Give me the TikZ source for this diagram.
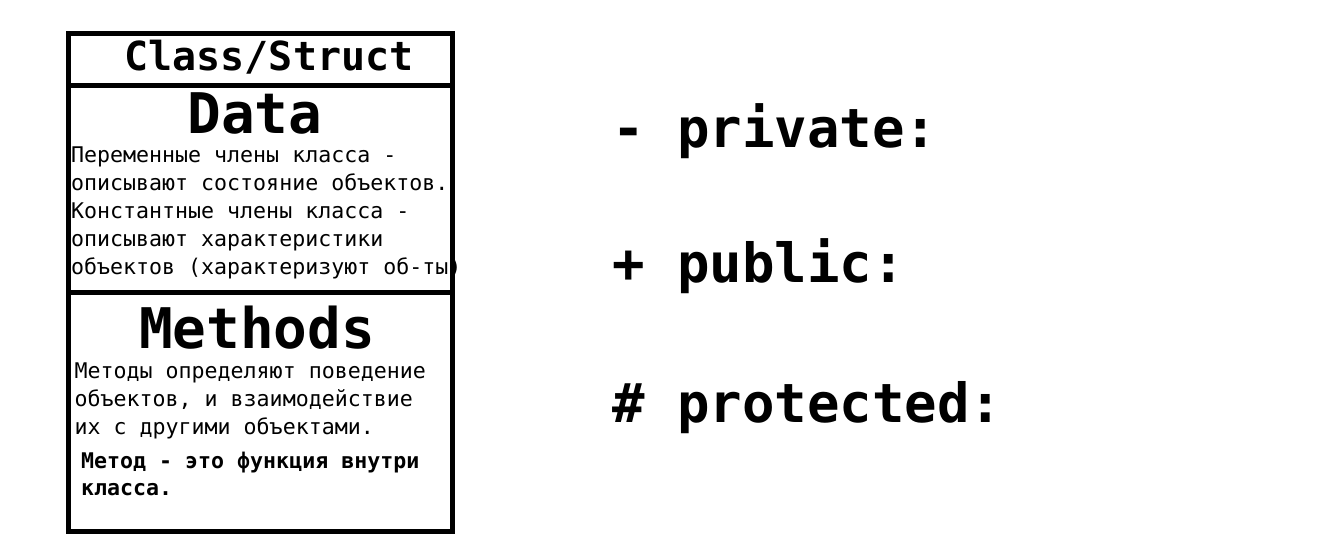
\documentclass[tikz,border=0pt]{standalone}
\usepackage{fontspec}
\setmonofont{DejaVu Sans Mono}
\usetikzlibrary{positioning}
\tikzset{
  compartment/.style={draw, line width=5pt, minimum width=384pt, inner sep=0pt, anchor=north west},
  heading/.style={font=\ttfamily\bfseries\fontsize{56}{56}\selectfont, inner sep=0pt, anchor=base},
  memo/.style={font=\ttfamily\fontsize{21.6}{28}\selectfont, align=left, inner sep=0pt, anchor=base west},
  modifier/.style={font=\ttfamily\bfseries\fontsize{54}{54}\selectfont, inner sep=0pt, anchor=base west}
}

\begin{document}
\begin{tikzpicture}[x=1pt, y=-1pt]
  \useasboundingbox (0,0) rectangle (1327,542);

  % class box
  \node [compartment, minimum height=52pt] (head) at (66,31) {};
  \node [compartment, minimum height=207pt] (data) at (66,83) {};
  \node [compartment, minimum height=239pt] (methods) at (66,290) {};

  % texts (base = last line)
  \node [heading, font=\ttfamily\bfseries\fontsize{40}{40}\selectfont] (cls) at (269,70) {Class/Struct};
  \node [heading] (datatitle) at (255,133) {Data};
  \node [memo] (datatext) at (71,274) {Переменные члены класса -\\
    описывают состояние объектов.\\
    Константные члены класса -\\
    описывают характеристики\\
    объектов (характеризуют об-ты)};

  \node [heading] (methtitle) at (257,348) {Methods};
  \node [memo] (methtext) at (74.5,434) {Методы определяют поведение\\
    объектов, и взаимодействие\\
    их с другими объектами.};
  \node [memo, font=\ttfamily\bfseries\fontsize{21.6}{27}\selectfont] (methnote) at (81,495) {Метод - это функция внутри\\
    класса.};

  % access modifiers
  \node [modifier] (private) at (612,147) {- private:};
  \node [modifier] (public) at (612,282) {+ public:};
  \node [modifier] (protected) at (612,422) {\# protected:};
\end{tikzpicture}
\end{document}
